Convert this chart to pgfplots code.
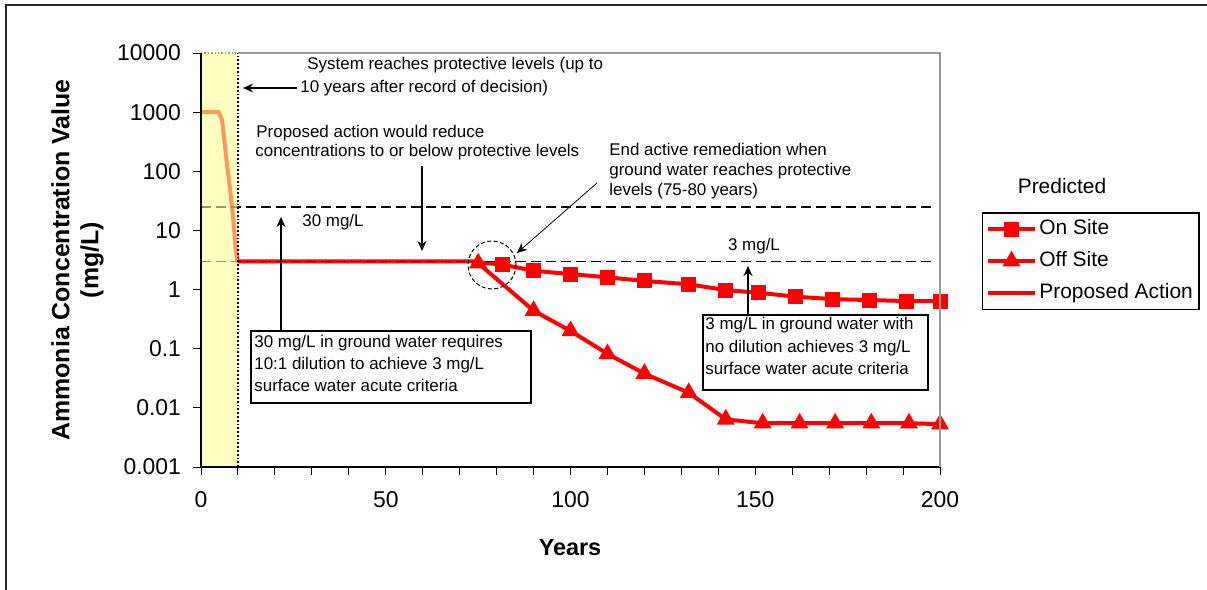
\documentclass[border=0pt]{standalone}
\usepackage{pgfplots}
\pgfplotsset{compat=1.18}
\usepackage{fontspec}
\setmainfont{Liberation Sans}
\usetikzlibrary{arrows.meta}
\definecolor{bandyellow}{RGB}{255,255,150}
\definecolor{plotred}{RGB}{255,0,0}
\begin{document}
\begin{tikzpicture}[x=0.5bp,y=-0.5bp]
\useasboundingbox (0,0) rectangle (1207,590);
\begin{axis}[
  at={(100.5bp,-233.5bp)}, anchor=south west,
  scale only axis, width=369.5bp, height=207bp,
  xmin=0, xmax=200, ymode=log, ymin=0.001, ymax=10000,
  axis x line*=bottom, axis y line*=left,
  axis line style={-, black, line width=0.6bp},
  axis on top,
  xtick={0,50,100,150,200},
  minor xtick={10,20,30,40,60,70,80,90,110,120,130,140,160,170,180,190},
  ytick={0.001,0.01,0.1,1,10,100,1000,10000},
  yticklabels={0.001,0.01,0.1,1,10,100,1000,10000},
  yminorticks=false,
  tick align=outside,
  major tick length=4bp, minor tick length=4bp,
  every tick/.style={black, line width=0.5bp},
  /pgf/number format/assume math mode=true,
  ticklabel style={font=\fontsize{11.5}{13}\selectfont},
  yticklabel style={xshift=-2.5bp},
  xticklabel style={yshift=-4.5bp},
  clip=false,
  legend style={at={(axis description cs:1.0565,0.615)}, anchor=north west,
    draw=black, line width=0.6bp, font=\fontsize{10.5}{12}\selectfont,
    inner sep=1.8bp, row sep=3.2bp,
    nodes={inner sep=1.2bp, text height=8bp, text depth=2.3bp},
    legend cell align=left},
  legend image code/.code={\draw[#1, mark indices={2}] plot coordinates {(0bp,0bp) (11.75bp,0bp) (23.5bp,0bp)};},
]
% series
\addplot[plotred, line width=2bp, mark=square*, mark size=2.75bp, mark options={solid}, mark indices={2,3,4,5,6,7,8,9,10,11,12,13,14}]
  coordinates {(75,2.9) (81.5,2.65) (90,2.08) (100,1.83) (110,1.61) (120,1.40) (132,1.23) (142,0.98) (151,0.885) (161,0.757) (171,0.69) (181,0.665) (191,0.64) (200,0.64)};
\addlegendentry{On Site}
\addplot[plotred, line width=2bp, mark=triangle*, mark size=3.2bp, mark options={solid}]
  coordinates {(75,2.8) (90,0.44) (100,0.20) (110,0.082) (120,0.038) (132,0.018) (142,0.0064) (152,0.0055) (162,0.0055) (171.6,0.0055) (181.4,0.0055) (191.6,0.0055) (200,0.0053)};
\addlegendentry{Off Site}
\addplot[plotred, line width=2bp]
  coordinates {(0,1000) (4.8,1000) (5.7,736) (6.2,385) (7.1,119) (8.0,42.5) (8.4,25) (8.9,11.6) (9.3,5.3) (9.8,3.16) (10,3) (75,3)};
\addlegendentry{Proposed Action}
% reference levels
\addplot[black, line width=0.6bp, dash pattern=on 5bp off 2.5bp, forget plot] coordinates {(0,25) (198,25)};
\addplot[black, line width=0.6bp, dash pattern=on 5bp off 2.5bp, forget plot] coordinates {(0,3) (198,3)};
% shaded period (overlaid, semi-transparent)
\fill[bandyellow, fill opacity=0.6] (axis cs:0,0.001) rectangle (axis cs:10,10000);
\draw[black, line width=0.9bp, densely dotted] (axis cs:10,0.001) -- (axis cs:10,10000);
\draw[olive!70, line width=0.7bp, densely dotted] (axis cs:0,10000) -- (axis cs:10,10000);
\end{axis}
% plot area border (gray) top and right
\draw[black!40, line width=0.8bp] (238,53) -- (940,53) -- (940,467);
% outer frame
\draw[black!85, line width=1bp] (6,590) -- (6,5) -- (1207,5);
% annotations
\tikzset{ann/.style={font=\fontsize{8.5}{10}\selectfont, inner sep=0pt, anchor=base west},
  arr/.style={black, line width=0.6bp, -{Stealth[length=5bp,width=4.5bp]}}}
\node[ann] at (307,70) {System reaches protective levels (up to};
\node[ann] at (300,93) {10 years after record of decision)};
\draw[arr] (297,88) -- (243,88);
\node[ann] at (256,138) {Proposed action would reduce};
\node[ann] at (255,157) {concentrations to or below protective levels};
\draw[arr] (422,166) -- (422,251);
\node[ann] at (302,227) {30 mg/L};
\draw[arr] (281,331) -- (281,217);
\node[ann] at (609,156) {End active remediation when};
\node[ann] at (609,176) {ground water reaches protective};
\node[ann] at (609,195) {levels (75-80 years)};
\draw[black, line width=0.4bp, -{Stealth[length=5bp,width=4.5bp]}] (597,183) -- (517,253);
\draw[black, line width=0.5bp, dash pattern=on 2bp off 1.2bp] (492,265) circle[radius=12bp];
\node[ann, anchor=base] at (754,250) {3 mg/L};
\draw[arr] (748,315) -- (748,266);
\draw[black, line width=0.6bp] (251,331) rectangle (531,403);
\node[ann] at (254,347) {30 mg/L in ground water requires};
\node[ann] at (254,369) {10:1 dilution to achieve 3 mg/L};
\node[ann] at (254,391) {surface water  acute criteria};
\draw[black, line width=0.6bp] (703,315) rectangle (928,390);
\node[ann] at (705,329) {3 mg/L in ground water with};
\node[ann] at (705,352) {no dilution achieves 3 mg/L};
\node[ann] at (705,374) {surface water acute criteria};
% legend title
\node[font=\fontsize{10.5}{12}\selectfont, inner sep=0pt] at (1062,186) {Predicted};
% axis titles
\node[font=\bfseries\fontsize{12.5}{14.5}\selectfont, align=center, rotate=90, inner sep=0pt] at (77.5,260) {Ammonia Concentration Value\\(mg/L)};
\node[font=\bfseries\fontsize{11.75}{13}\selectfont, inner sep=0pt] at (570,548) {Years};
\end{tikzpicture}
\end{document}
